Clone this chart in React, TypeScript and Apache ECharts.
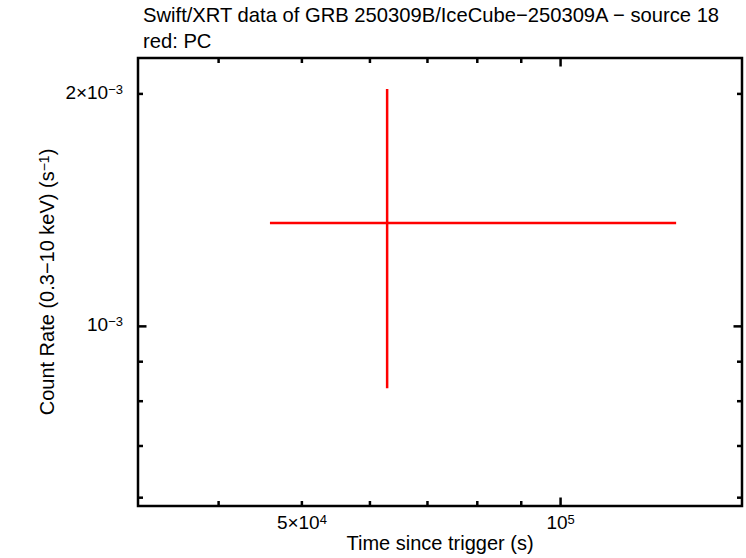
import React, { useEffect, useRef } from "react";
import * as echarts from "echarts";

const titleLine1 = "Swift/XRT data of GRB 250309B/IceCube−250309A − source 18";
const titleLine2 = "red: PC";
const xAxisTitle = "Time since trigger (s)";
const yAxisTitle = "{m|Count Rate (0.3−10 keV) (s}{sup|−1}{m|)}";

const xRange = [32230, 162600];
const yRange = [5.853e-4, 2.226e-3];

const xTickValues = [4e4, 5e4, 6e4, 7e4, 8e4, 9e4, 1e5];
const xTickMajor = [false, false, false, false, false, false, true];
const xTickLabels = ["", "{m|5×10}{sup|4}", "", "", "", "", "{m|10}{sup|5}"];

const yTickValues = [6e-4, 7e-4, 8e-4, 9e-4, 1e-3, 2e-3];
const yTickMajor = [false, false, false, false, true, false];
const yTickLabels = ["", "", "", "", "{m|10}{sup|−3}", "{m|2×10}{sup|−3}"];

const pcTime = [62830];
const pcTimeStart = [45900];
const pcTimeStop = [136290];
const pcRate = [1.361e-3];
const pcRateLow = [0.8314e-3];
const pcRateHigh = [2.03e-3];

const FONT = "'Liberation Sans', Arial, Helvetica, sans-serif";

const labelRich = {
  m: { fontSize: 19, lineHeight: 19, padding: [4, 0, 0, 0], fontFamily: FONT, color: "#000", fill: "#000", verticalAlign: "bottom" },
  sup: { fontSize: 13, lineHeight: 13, fontFamily: FONT, color: "#000", fill: "#000", verticalAlign: "top" },
};

export default function App() {
  const ref = useRef<HTMLDivElement>(null);
  useEffect(() => {
    if (!ref.current) return;
    const chart = echarts.init(ref.current, undefined, { renderer: "svg" });
    const tickStyle = { stroke: "#000", lineWidth: 2.5 };
    chart.setOption({
      animation: false,
      backgroundColor: "#fff",
      title: {
        text: titleLine1 + "\n" + titleLine2,
        left: 143,
        top: 2,
        padding: 0,
        textStyle: { fontSize: 20.2, fontWeight: "normal", fontFamily: FONT, color: "#000", lineHeight: 26 },
      },
      grid: {
        left: 138,
        right: 4,
        top: 58,
        bottom: 51,
        show: true,
        borderColor: "#000",
        borderWidth: 2.5,
        backgroundColor: "transparent",
      },
      xAxis: {
        type: "log",
        min: xRange[0],
        max: xRange[1],
        name: xAxisTitle,
        nameLocation: "middle",
        nameGap: 27,
        nameTextStyle: { fontSize: 20, fontFamily: FONT, color: "#000" },
        axisLine: { show: false },
        axisTick: { show: false },
        axisLabel: { show: false },
        splitLine: { show: false },
        minorTick: { show: false },
      },
      yAxis: {
        type: "log",
        min: yRange[0],
        max: yRange[1],
        name: yAxisTitle,
        nameLocation: "middle",
        nameGap: 81,
        nameTextStyle: {
          fontSize: 20,
          fontFamily: FONT,
          color: "#000",
          rich: {
            m: { fontSize: 20, lineHeight: 20, padding: [5, 0, 0, 0], fontFamily: FONT, color: "#000", verticalAlign: "bottom" },
            sup: { fontSize: 14, lineHeight: 14, fontFamily: FONT, color: "#000", verticalAlign: "top" },
          },
        },
        axisLine: { show: false },
        axisTick: { show: false },
        axisLabel: { show: false },
        splitLine: { show: false },
      },
      series: [
        {
          type: "custom",
          name: "xticks",
          silent: true,
          clip: false,
          data: xTickValues.map((v) => [v, yRange[0]]),
          encode: { x: 0, y: 1 },
          renderItem: (params: any, api: any) => {
            const i = params.dataIndex;
            const v = api.value(0);
            const b = api.coord([v, yRange[0]]);
            const t = api.coord([v, yRange[1]]);
            const len = xTickMajor[i] ? 8.5 : 5;
            const children: any[] = [
              { type: "line", shape: { x1: b[0], y1: b[1], x2: b[0], y2: b[1] - len }, style: tickStyle },
              { type: "line", shape: { x1: t[0], y1: t[1], x2: t[0], y2: t[1] + len }, style: tickStyle },
            ];
            if (xTickLabels[i]) {
              children.push({
                type: "text",
                x: b[0],
                y: b[1] + 7,
                style: { text: xTickLabels[i], rich: labelRich, align: "center", verticalAlign: "top", fill: "#000" },
              });
            }
            return { type: "group", children };
          },
        },
        {
          type: "custom",
          name: "yticks",
          silent: true,
          clip: false,
          data: yTickValues.map((v) => [xRange[0], v]),
          encode: { x: 0, y: 1 },
          renderItem: (params: any, api: any) => {
            const i = params.dataIndex;
            const v = api.value(1);
            const l = api.coord([xRange[0], v]);
            const r = api.coord([xRange[1], v]);
            const len = yTickMajor[i] ? 8.5 : 5;
            const children: any[] = [
              { type: "line", shape: { x1: l[0], y1: l[1], x2: l[0] + len, y2: l[1] }, style: tickStyle },
              { type: "line", shape: { x1: r[0], y1: r[1], x2: r[0] - len, y2: r[1] }, style: tickStyle },
            ];
            if (yTickLabels[i]) {
              children.push({
                type: "text",
                x: l[0] - 15,
                y: l[1] - 11,
                style: { text: yTickLabels[i], rich: labelRich, align: "right", verticalAlign: "top", fill: "#000" },
              });
            }
            return { type: "group", children };
          },
        },
        {
          type: "custom",
          name: "PC",
          silent: true,
          data: pcTime.map((t, i) => [t, pcRate[i], pcTimeStart[i], pcTimeStop[i], pcRateLow[i], pcRateHigh[i]]),
          encode: { x: [0, 2, 3], y: [1, 4, 5] },
          renderItem: (params: any, api: any) => {
            const x = api.value(0);
            const y = api.value(1);
            const h1 = api.coord([api.value(2), y]);
            const h2 = api.coord([api.value(3), y]);
            const v1 = api.coord([x, api.value(4)]);
            const v2 = api.coord([x, api.value(5)]);
            const st = { stroke: "#ff0000", lineWidth: 2.5 };
            return {
              type: "group",
              children: [
                { type: "line", shape: { x1: h1[0], y1: h1[1], x2: h2[0], y2: h2[1] }, style: st },
                { type: "line", shape: { x1: v1[0], y1: v1[1], x2: v2[0], y2: v2[1] }, style: st },
              ],
            };
          },
        },
      ],
    });
    return () => chart.dispose();
  }, []);
  return <div ref={ref} style={{ position: "absolute", left: 0, top: 0, width: 746, height: 558 }} />;
}
